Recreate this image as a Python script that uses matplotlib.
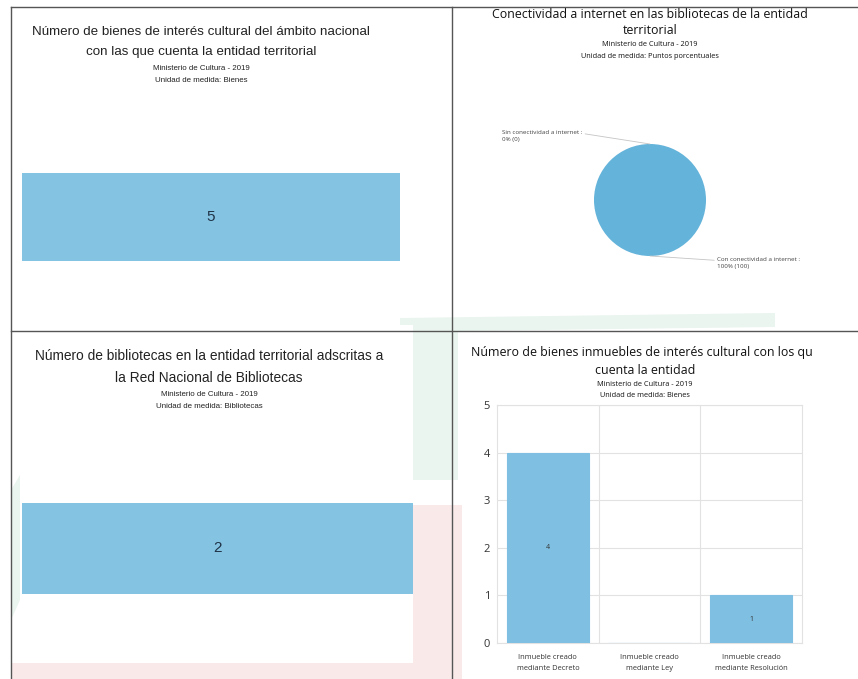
import numpy as np
import matplotlib.pyplot as plt
from matplotlib.patches import Polygon
from matplotlib.lines import Line2D

W, H = 858, 679

# --- data ---
bic_nacional = [5]
bibliotecas_rnb = [2]
conect_labels = ["Sin conectividad a internet :", "Con conectividad a internet :"]
conect_values = [0, 100]
inmuebles_cats = ["Inmueble creado\nmediante Decreto",
                  "Inmueble creado\nmediante Ley",
                  "Inmueble creado\nmediante Resolución"]
inmuebles_values = [4, 0, 1]
inmuebles_yticks = [0, 1, 2, 3, 4, 5]

fuente = "Ministerio de Cultura - 2019"

BAR = "#85c3e3"
PIE = "#63b3da"
BAR4 = "#7fc0e2"
ARIAL = "Liberation Sans"
SEGOE = "Open Sans"


def fx(x):
    return x / W


def fy(y):
    return 1 - y / H


def box(x0, y0, x1, y1):
    # pixel box (top-left origin) -> figure fraction rect
    return [x0 / W, 1 - y1 / H, (x1 - x0) / W, (y1 - y0) / H]


fig = plt.figure(figsize=(W / 100, H / 100), dpi=100)
fig.patch.set_facecolor("white")

# faint watermark shapes behind the panels
wm_green = "#eaf5ef"
wm_red = "#fae9e9"
for pts, col in [
    ([(400, 318), (775, 313), (775, 327), (458, 331), (458, 480), (413, 480), (413, 325), (400, 325)], wm_green),
    ([(413, 505), (462, 505), (462, 679), (413, 679)], wm_red),
    ([(11, 663), (413, 663), (413, 679), (11, 679)], wm_red),
    ([(11, 490), (20, 475), (20, 600), (11, 620)], wm_green),
]:
    fig.patches.append(Polygon([(fx(x), fy(y)) for x, y in pts], closed=True,
                               transform=fig.transFigure, facecolor=col,
                               edgecolor="none", zorder=0))

# panel frame lines
frame_kw = dict(color="#555555", lw=1.0, transform=fig.transFigure, zorder=5)
fig.lines.append(Line2D([fx(11), fx(858)], [fy(7), fy(7)], **frame_kw))
fig.lines.append(Line2D([fx(11), fx(858)], [fy(331), fy(331)], **frame_kw))
fig.lines.append(Line2D([fx(11), fx(11)], [fy(7), fy(679)], **frame_kw))
fig.lines.append(Line2D([fx(452), fx(452)], [fy(7), fy(679)], **frame_kw))


def titles(x, ys, lines, fam, size, sub_size, color="#222222"):
    for y, (txt, big) in zip(ys, lines):
        fig.text(fx(x), fy(y), txt, ha="center", va="center", family=fam,
                 fontsize=size if big else sub_size, color=color)


# ---------- panel 1: bienes de interés cultural nacional ----------
titles(201, [32, 52, 68, 80],
       [("Número de bienes de interés cultural del ámbito nacional", True),
        ("con las que cuenta la entidad territorial", True),
        (fuente, False), ("Unidad de medida: Bienes", False)],
       ARIAL, 9.6, 5.7)
ax1 = fig.add_axes(box(22, 173, 400, 261))
ax1.barh([0], bic_nacional, height=1, color=BAR)
ax1.set_xlim(0, bic_nacional[0])
ax1.set_ylim(-0.5, 0.5)
ax1.axis("off")
ax1.text(bic_nacional[0] / 2, 0, str(bic_nacional[0]), ha="center", va="center",
         family=ARIAL, fontsize=11, color="#1f3346")

# ---------- panel 3: bibliotecas RNB ----------
titles(209, [356, 378, 394, 406],
       [("Número de bibliotecas en la entidad territorial adscritas a", True),
        ("la Red Nacional de Bibliotecas", True),
        (fuente, False), ("Unidad de medida: Bibliotecas", False)],
       ARIAL, 9.9, 5.7)
ax3 = fig.add_axes(box(22, 503, 413, 594))
ax3.barh([0], bibliotecas_rnb, height=1, color=BAR)
ax3.set_xlim(0, bibliotecas_rnb[0])
ax3.set_ylim(-0.5, 0.5)
ax3.axis("off")
ax3.text(bibliotecas_rnb[0] / 2, 0, str(bibliotecas_rnb[0]), ha="center", va="center",
         family=ARIAL, fontsize=11, color="#1f3346")

# ---------- panel 2: conectividad (pie) ----------
titles(650, [14, 31, 45, 56],
       [("Conectividad a internet en las bibliotecas de la entidad", True),
        ("territorial", True),
        (fuente, False), ("Unidad de medida: Puntos porcentuales", False)],
       SEGOE, 8.9, 5.3, color="#111111")
ax2 = fig.add_axes(box(650 - 70, 200 - 70, 650 + 70, 200 + 70))
wedges, _ = ax2.pie(conect_values, colors=[PIE, PIE], startangle=90,
                    counterclock=False, wedgeprops=dict(linewidth=0))
total = sum(conect_values)
label_pos = [((502, 136), (1.0, 0.72)), ((717, 263), (0.0, 0.72))]
for w, lab, v, (pos, rel) in zip(wedges, conect_labels, conect_values, label_pos):
    ang = np.deg2rad((w.theta1 + w.theta2) / 2)
    pt = (np.cos(ang), np.sin(ang))
    pct = round(100 * v / total)
    ax2.annotate(f"{lab}\n{pct}% ({v})", xy=pt, xytext=(fx(pos[0]), fy(pos[1])),
                 textcoords="figure fraction", ha="left", va="center",
                 family=SEGOE, fontsize=4.5, color="#444444", linespacing=1.4,
                 arrowprops=dict(arrowstyle="-", color="#c4c4c4", lw=0.6,
                                 shrinkA=0, shrinkB=0, relpos=rel))

# ---------- panel 4: bienes inmuebles ----------
# title is clipped at the right edge, as in the source screenshot
tax = fig.add_axes(box(452, 331, 812, 400))
tax.axis("off")
tax.set_xlim(452, 812)
tax.set_ylim(400, 331)
for y, txt, size in [(352, "Número de bienes inmuebles de interés cultural con los que", 8.9),
                     (370, "cuenta la entidad", 8.9),
                     (384, fuente, 5.3),
                     (395, "Unidad de medida: Bienes", 5.3)]:
    tax.text(645, y, txt, ha="center", va="center", family=SEGOE, fontsize=size,
             color="#111111", clip_on=True)

ax4 = fig.add_axes(box(497, 405, 802, 643))
x = np.arange(len(inmuebles_cats))
ax4.bar(x, inmuebles_values, width=0.81, color=BAR4, edgecolor=BAR4,
        linewidth=0.8, zorder=3)
ax4.set_xlim(-0.5, len(inmuebles_cats) - 0.5)
ax4.set_ylim(0, max(inmuebles_yticks))
ax4.set_yticks(inmuebles_yticks)
ax4.set_xticks(x)
ax4.set_xticklabels(inmuebles_cats, family=SEGOE, fontsize=5.4, color="#333333",
                    linespacing=1.75)
ax4.set_xticks(x[:-1] + 0.5, minor=True)
for lab in ax4.get_yticklabels():
    lab.set_family(SEGOE)
    lab.set_fontsize(8)
    lab.set_color("#333333")
ax4.tick_params(axis="both", which="both", length=0)
ax4.tick_params(axis="y", pad=5)
ax4.tick_params(axis="x", pad=8)
ax4.grid(axis="y", color="#e2e2e2", lw=0.8, zorder=0)
ax4.grid(axis="x", which="minor", color="#e2e2e2", lw=0.8, zorder=0)
for s in ax4.spines.values():
    s.set_color("#e2e2e2")
    s.set_linewidth(0.8)
for xi, v in zip(x, inmuebles_values):
    if v > 0:
        ax4.text(xi, v / 2, str(v), ha="center", va="center", family=SEGOE,
                 fontsize=5, color="#333333", zorder=4)

fig.savefig("out.png", dpi=100)
